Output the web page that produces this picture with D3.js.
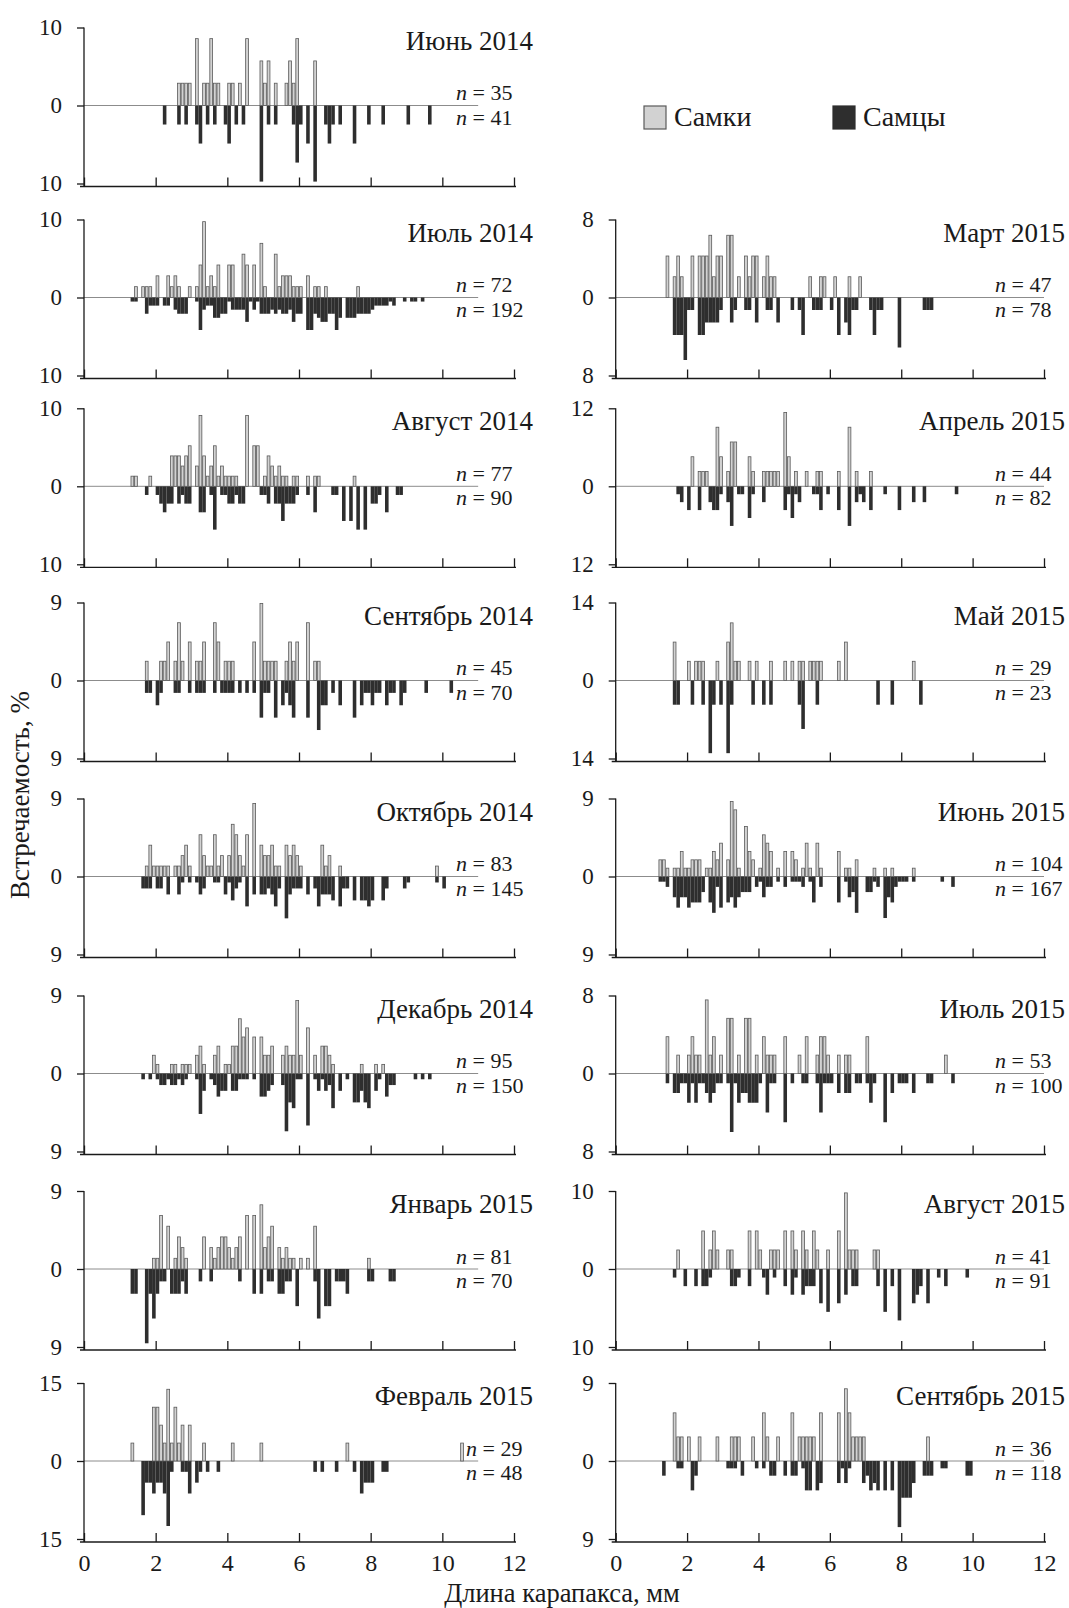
<!DOCTYPE html>
<html>
<head>
<meta charset="utf-8">
<script src="https://cdn.jsdelivr.net/npm/d3@7"></script>
<style>
  body { margin: 0; background: #fff; }
  svg text { font-family: "Liberation Serif", "DejaVu Serif", serif; fill: #1a1a1a; }
</style>
</head>
<body>
<svg id="chart" width="1069" height="1608"></svg>
<script>
// panel order: left column top to bottom, then right column top to bottom
const titles = ["Июнь 2014", "Июль 2014", "Август 2014", "Сентябрь 2014", "Октябрь 2014",
  "Декабрь 2014", "Январь 2015", "Февраль 2015", "Март 2015", "Апрель 2015", "Май 2015",
  "Июнь 2015", "Июль 2015", "Август 2015", "Сентябрь 2015"]
const nFemale = [35, 72, 77, 45, 83, 95, 81, 29, 47, 44, 29, 104, 53, 41, 36]
const nMale = [41, 192, 90, 70, 145, 150, 70, 48, 78, 82, 23, 167, 100, 91, 118]
const yMax = [10, 10, 10, 9, 9, 9, 9, 15, 8, 12, 14, 9, 8, 10, 9]
const xTicks = [0, 2, 4, 6, 8, 10, 12]
const legendLabels = ["Самки", "Самцы"]

// [carapace length class, mm (left edge of 0.1 mm class), number of animals]
const fJun14 = [[2.6,1],[2.7,1],[2.8,1],[2.9,1],[3.1,3],[3.3,1],[3.4,1],[3.5,3],[3.6,1],[3.7,1],[4.0,1],[4.1,1],[4.3,1],[4.5,3],[4.9,2],[5.0,1],[5.1,2],[5.3,1],[5.6,1],[5.7,2],[5.8,1],[5.9,3],[6.4,2]]
const mJun14 = [[2.2,1],[2.6,1],[2.8,1],[3.1,1],[3.2,2],[3.4,1],[3.6,1],[3.9,1],[4.0,2],[4.2,1],[4.4,1],[4.9,4],[5.1,1],[5.3,1],[5.8,1],[5.9,3],[6.0,1],[6.2,2],[6.4,4],[6.7,1],[6.8,2],[6.9,1],[7.1,1],[7.5,2],[7.9,1],[8.3,1],[9.0,1],[9.6,1]]
const fJul14 = [[1.4,1],[1.6,1],[1.7,1],[1.8,1],[2.0,2],[2.3,2],[2.4,1],[2.5,2],[2.6,1],[2.9,1],[3.1,1],[3.2,3],[3.3,7],[3.4,1],[3.5,2],[3.6,1],[3.7,3],[4.0,3],[4.1,3],[4.4,4],[4.5,3],[4.7,3],[4.9,5],[5.0,1],[5.3,4],[5.4,1],[5.5,2],[5.6,2],[5.7,2],[5.8,1],[5.9,1],[6.0,1],[6.2,2],[6.4,1],[6.5,1],[6.7,1],[7.6,1]]
const mJul14 = [[1.3,1],[1.4,1],[1.7,4],[1.8,2],[1.9,2],[2.0,2],[2.2,2],[2.3,2],[2.5,3],[2.6,4],[2.7,4],[2.8,4],[3.1,1],[3.2,8],[3.3,3],[3.4,2],[3.5,2],[3.6,5],[3.7,5],[3.8,4],[3.9,4],[4.0,1],[4.1,3],[4.2,3],[4.3,3],[4.4,3],[4.5,6],[4.6,1],[4.7,3],[4.8,1],[4.9,4],[5.0,4],[5.1,4],[5.2,3],[5.3,4],[5.4,3],[5.5,4],[5.6,4],[5.7,3],[5.8,6],[5.9,4],[6.0,4],[6.2,8],[6.3,8],[6.4,4],[6.5,5],[6.6,6],[6.7,6],[6.8,4],[6.9,4],[7.0,8],[7.1,5],[7.3,5],[7.4,5],[7.5,5],[7.6,4],[7.7,4],[7.8,4],[7.9,4],[8.0,3],[8.1,2],[8.2,2],[8.3,2],[8.4,2],[8.5,1],[8.6,2],[8.9,1],[9.1,1],[9.2,1],[9.4,1]]
const fAug14 = [[1.3,1],[1.4,1],[1.8,1],[2.4,3],[2.5,3],[2.6,3],[2.7,2],[2.8,3],[2.9,4],[3.1,2],[3.2,7],[3.3,3],[3.4,1],[3.5,2],[3.6,4],[3.7,1],[3.8,2],[3.9,1],[4.0,1],[4.1,1],[4.2,1],[4.5,7],[4.7,4],[4.8,4],[5.0,1],[5.1,3],[5.2,2],[5.3,1],[5.4,2],[5.5,1],[5.6,1],[5.8,1],[5.9,1],[6.2,1],[6.4,1],[6.5,1],[7.5,1]]
const mAug14 = [[1.7,1],[2.0,1],[2.1,2],[2.2,3],[2.3,2],[2.4,2],[2.6,2],[2.7,1],[2.8,2],[2.9,2],[3.2,3],[3.3,3],[3.5,1],[3.6,5],[3.8,1],[3.9,1],[4.0,2],[4.1,2],[4.2,1],[4.3,2],[4.4,2],[4.9,1],[5.0,1],[5.1,2],[5.3,2],[5.4,2],[5.5,4],[5.6,2],[5.7,2],[5.8,2],[5.9,1],[6.2,1],[6.4,3],[6.9,1],[7.0,1],[7.2,4],[7.4,4],[7.6,5],[7.8,5],[8.0,2],[8.1,2],[8.2,1],[8.4,3],[8.7,1],[8.8,1]]
const fSep14 = [[1.7,1],[2.1,1],[2.2,1],[2.3,2],[2.5,1],[2.6,3],[2.7,1],[2.9,2],[3.1,1],[3.2,1],[3.3,2],[3.6,3],[3.7,2],[3.9,1],[4.0,1],[4.1,1],[4.7,2],[4.9,4],[5.0,1],[5.1,1],[5.2,1],[5.3,1],[5.6,1],[5.7,2],[5.8,1],[5.9,2],[6.2,3],[6.4,1],[6.5,1]]
const mSep14 = [[1.7,1],[1.8,1],[2.0,2],[2.1,1],[2.5,1],[2.6,1],[2.9,1],[3.1,1],[3.2,1],[3.3,1],[3.6,1],[3.8,1],[3.9,1],[4.0,1],[4.1,1],[4.3,1],[4.5,1],[4.7,1],[4.9,3],[5.0,1],[5.1,1],[5.3,3],[5.5,2],[5.6,1],[5.7,2],[5.8,3],[6.2,3],[6.5,4],[6.6,2],[6.7,2],[6.9,1],[7.1,2],[7.5,3],[7.7,2],[7.8,1],[7.9,1],[8.0,2],[8.1,1],[8.2,1],[8.4,2],[8.5,1],[8.6,1],[8.8,2],[8.9,1],[9.5,1],[10.2,1]]
const fOct14 = [[1.7,1],[1.8,3],[1.9,1],[2.0,1],[2.1,1],[2.2,1],[2.3,1],[2.5,1],[2.6,1],[2.7,2],[2.8,3],[2.9,1],[3.2,4],[3.3,2],[3.4,1],[3.5,1],[3.6,4],[3.7,1],[3.8,2],[4.0,2],[4.1,5],[4.2,4],[4.3,2],[4.4,1],[4.5,4],[4.7,7],[4.9,3],[5.0,2],[5.1,2],[5.2,3],[5.3,1],[5.4,1],[5.6,3],[5.7,2],[5.8,3],[5.9,2],[6.0,1],[6.6,3],[6.7,1],[6.8,2],[7.1,1],[9.8,1]]
const mOct14 = [[1.6,2],[1.7,2],[1.8,2],[2.0,2],[2.1,2],[2.3,3],[2.6,3],[2.7,1],[2.9,1],[3.1,1],[3.2,3],[3.3,2],[3.6,1],[3.7,1],[3.9,3],[4.0,1],[4.1,4],[4.2,2],[4.3,1],[4.5,5],[4.7,3],[4.9,3],[5.0,3],[5.1,2],[5.2,3],[5.3,5],[5.4,2],[5.6,7],[5.7,3],[5.8,2],[5.9,2],[6.0,2],[6.2,3],[6.4,2],[6.5,5],[6.6,3],[6.7,3],[6.8,3],[6.9,4],[7.1,5],[7.2,2],[7.3,2],[7.5,4],[7.7,4],[7.8,4],[7.9,5],[8.0,4],[8.3,4],[8.4,2],[8.9,2],[9.0,1],[9.8,1],[10.0,2]]
const fDec14 = [[1.9,2],[2.0,1],[2.4,1],[2.5,1],[2.7,1],[2.8,1],[2.9,1],[3.1,2],[3.2,3],[3.3,1],[3.6,2],[3.7,3],[3.9,1],[4.0,1],[4.1,3],[4.2,3],[4.3,6],[4.4,4],[4.5,5],[4.7,4],[4.9,4],[5.0,2],[5.1,2],[5.2,3],[5.5,2],[5.6,3],[5.7,2],[5.8,2],[5.9,8],[6.0,2],[6.2,5],[6.4,2],[6.6,3],[6.7,3],[6.8,2],[6.9,1],[7.7,1],[8.1,1],[8.3,1]]
const mDec14 = [[1.6,1],[1.8,1],[2.0,1],[2.1,2],[2.2,2],[2.3,1],[2.4,2],[2.5,2],[2.6,1],[2.7,2],[2.8,1],[3.1,1],[3.2,7],[3.3,3],[3.5,1],[3.6,2],[3.7,4],[3.8,3],[3.9,3],[4.1,3],[4.2,3],[4.3,1],[4.4,1],[4.5,1],[4.7,1],[4.9,4],[5.0,4],[5.1,3],[5.2,2],[5.5,2],[5.6,10],[5.7,5],[5.8,6],[5.9,1],[6.0,1],[6.2,9],[6.4,1],[6.5,3],[6.6,1],[6.7,3],[6.8,2],[6.9,6],[7.1,3],[7.3,1],[7.5,5],[7.6,5],[7.7,3],[7.8,5],[7.9,6],[8.1,3],[8.2,1],[8.4,4],[8.5,2],[8.6,2],[9.2,1],[9.4,1],[9.6,1]]
const fJan15 = [[1.9,1],[2.0,1],[2.1,5],[2.3,4],[2.5,1],[2.6,3],[2.7,2],[2.8,1],[3.3,3],[3.5,2],[3.6,1],[3.7,2],[3.8,3],[3.9,3],[4.0,2],[4.1,1],[4.2,2],[4.3,3],[4.5,5],[4.7,5],[4.9,6],[5.0,2],[5.1,3],[5.2,4],[5.4,2],[5.5,1],[5.6,2],[5.7,1],[5.8,1],[6.0,1],[6.2,1],[6.4,4],[7.9,1]]
const mJan15 = [[1.3,2],[1.4,2],[1.7,6],[1.8,2],[1.9,4],[2.0,2],[2.1,1],[2.2,1],[2.4,2],[2.5,2],[2.6,2],[2.7,1],[2.8,2],[3.2,1],[3.5,1],[4.3,1],[4.7,2],[4.9,2],[5.1,1],[5.2,1],[5.4,2],[5.5,2],[5.6,1],[5.7,1],[5.9,3],[6.4,1],[6.5,4],[6.7,3],[6.8,3],[7.0,1],[7.1,1],[7.2,1],[7.3,2],[7.9,1],[8.0,1],[8.5,1],[8.6,1]]
const fFeb15 = [[1.3,1],[1.9,3],[2.0,3],[2.1,2],[2.2,1],[2.3,4],[2.4,1],[2.5,3],[2.6,1],[2.7,2],[2.9,2],[3.3,1],[4.1,1],[4.9,1],[7.3,1],[10.5,1]]
const mFeb15 = [[1.6,5],[1.7,2],[1.8,2],[1.9,3],[2.0,2],[2.1,2],[2.2,3],[2.3,6],[2.4,1],[2.7,1],[2.8,1],[2.9,3],[3.1,2],[3.2,1],[3.4,1],[3.7,1],[6.4,1],[6.6,1],[7.0,1],[7.5,1],[7.7,3],[7.8,2],[7.9,2],[8.0,2],[8.3,1],[8.4,1]]
const fMar15 = [[1.4,2],[1.6,1],[1.7,2],[1.8,1],[2.1,2],[2.3,2],[2.4,2],[2.5,2],[2.6,3],[2.7,1],[2.8,2],[2.9,2],[3.1,3],[3.2,3],[3.4,1],[3.6,2],[3.7,1],[3.8,2],[3.9,2],[4.1,1],[4.2,2],[4.3,1],[4.4,1],[5.4,1],[5.7,1],[5.8,1],[6.1,1],[6.5,1],[6.8,1]]
const mMar15 = [[1.6,3],[1.7,3],[1.8,3],[1.9,5],[2.0,1],[2.1,1],[2.3,3],[2.4,3],[2.5,2],[2.6,2],[2.7,2],[2.8,2],[2.9,1],[3.2,2],[3.3,1],[3.6,1],[3.7,1],[3.9,2],[4.2,1],[4.3,1],[4.5,2],[4.9,1],[5.1,1],[5.2,3],[5.5,1],[5.6,1],[5.7,1],[6.0,1],[6.2,3],[6.4,2],[6.5,3],[6.6,1],[6.7,1],[7.1,1],[7.2,3],[7.3,1],[7.4,1],[7.9,4],[8.6,1],[8.7,1],[8.8,1]]
const fApr15 = [[2.1,2],[2.3,1],[2.4,1],[2.5,1],[2.8,4],[2.9,2],[3.1,1],[3.2,3],[3.3,3],[3.7,2],[3.8,1],[4.1,1],[4.2,1],[4.3,1],[4.4,1],[4.5,1],[4.7,5],[4.8,2],[5.0,1],[5.3,1],[5.6,1],[5.7,1],[6.2,1],[6.5,4],[6.7,1],[7.1,1]]
const mApr15 = [[1.7,1],[1.8,2],[2.0,3],[2.3,3],[2.6,2],[2.7,3],[2.8,3],[2.9,1],[3.1,2],[3.2,5],[3.4,1],[3.5,1],[3.7,4],[3.8,1],[4.1,2],[4.7,3],[4.8,1],[4.9,4],[5.0,1],[5.1,2],[5.5,1],[5.6,1],[5.7,3],[5.9,1],[6.2,3],[6.5,5],[6.7,2],[6.8,1],[6.9,2],[7.1,3],[7.5,1],[7.9,3],[8.3,2],[8.6,2],[9.5,1]]
const fMay15 = [[1.6,2],[2.0,1],[2.2,1],[2.3,1],[2.4,1],[2.8,1],[3.1,2],[3.2,3],[3.3,1],[3.4,1],[3.7,1],[3.9,1],[4.3,1],[4.7,1],[4.9,1],[5.1,1],[5.2,1],[5.4,1],[5.5,1],[5.6,1],[5.7,1],[6.2,1],[6.4,2],[8.3,1]]
const mMay15 = [[1.6,1],[1.7,1],[2.1,1],[2.4,1],[2.6,3],[2.7,1],[2.9,1],[3.1,3],[3.2,1],[3.8,1],[4.1,1],[4.3,1],[5.1,1],[5.2,2],[5.6,1],[7.3,1],[7.7,1],[8.5,1]]
const fJun15 = [[1.2,2],[1.3,2],[1.4,1],[1.6,1],[1.7,1],[1.8,3],[1.9,1],[2.0,1],[2.1,2],[2.2,2],[2.3,2],[2.5,1],[2.6,1],[2.7,3],[2.8,2],[2.9,4],[3.1,2],[3.2,9],[3.3,8],[3.4,1],[3.6,6],[3.7,3],[3.8,2],[4.0,1],[4.1,5],[4.2,4],[4.3,3],[4.5,1],[4.7,3],[4.9,3],[5.0,2],[5.2,1],[5.3,4],[5.4,1],[5.6,4],[5.7,1],[6.2,3],[6.4,1],[6.5,1],[6.7,2],[7.2,1],[7.5,1],[7.7,1],[8.3,1]]
const mJun15 = [[1.2,1],[1.3,1],[1.4,2],[1.6,4],[1.7,6],[1.8,4],[1.9,4],[2.0,6],[2.1,5],[2.2,5],[2.3,5],[2.4,3],[2.6,5],[2.7,7],[2.8,2],[2.9,6],[3.1,5],[3.2,4],[3.3,6],[3.4,4],[3.5,3],[3.6,3],[3.7,3],[3.9,2],[4.0,1],[4.1,4],[4.2,2],[4.3,2],[4.5,1],[4.7,2],[4.9,1],[5.0,1],[5.1,1],[5.2,2],[5.4,1],[5.5,5],[5.7,2],[6.2,5],[6.4,1],[6.5,4],[6.6,3],[6.7,7],[7.0,3],[7.1,3],[7.2,1],[7.3,2],[7.5,8],[7.6,4],[7.7,5],[7.8,2],[7.9,1],[8.0,1],[8.1,1],[8.3,1],[9.1,1],[9.4,2]]
const fJul15 = [[1.4,2],[1.7,1],[2.0,1],[2.1,2],[2.2,1],[2.3,1],[2.5,4],[2.6,1],[2.7,2],[2.9,1],[3.1,3],[3.2,3],[3.4,1],[3.6,3],[3.7,3],[3.9,1],[4.1,2],[4.2,1],[4.3,1],[4.4,1],[4.7,2],[5.1,1],[5.3,2],[5.6,1],[5.7,2],[5.8,2],[5.9,1],[6.2,1],[6.4,1],[6.5,1],[7.0,2],[9.2,1]]
const mJul15 = [[1.4,1],[1.6,2],[1.7,2],[1.8,1],[1.9,1],[2.0,3],[2.1,1],[2.2,3],[2.3,1],[2.4,1],[2.5,2],[2.6,3],[2.7,2],[2.8,1],[2.9,1],[3.1,1],[3.2,6],[3.3,1],[3.4,3],[3.5,2],[3.6,2],[3.7,3],[3.8,3],[3.9,3],[4.0,1],[4.2,4],[4.3,1],[4.4,1],[4.7,5],[4.9,1],[5.2,1],[5.3,1],[5.6,1],[5.7,4],[5.8,1],[5.9,1],[6.0,1],[6.2,2],[6.4,2],[6.5,2],[6.7,1],[6.8,1],[7.0,1],[7.1,3],[7.2,1],[7.5,5],[7.7,2],[7.9,1],[8.0,1],[8.1,1],[8.3,2],[8.7,1],[8.8,1],[9.4,1]]
const fAug15 = [[1.7,1],[2.4,2],[2.6,1],[2.7,2],[2.8,1],[3.1,1],[3.2,1],[3.7,2],[3.9,2],[4.0,1],[4.3,1],[4.4,1],[4.5,1],[4.7,2],[4.9,2],[5.0,1],[5.2,2],[5.3,1],[5.5,2],[5.6,1],[5.9,1],[6.2,2],[6.4,4],[6.5,1],[6.6,1],[6.7,1],[7.2,1],[7.3,1]]
const mAug15 = [[1.6,1],[1.9,2],[2.2,2],[2.4,2],[2.5,2],[2.6,1],[3.2,2],[3.3,2],[3.4,1],[3.7,2],[4.1,1],[4.2,3],[4.4,1],[4.7,2],[4.9,3],[5.0,1],[5.2,3],[5.3,2],[5.4,2],[5.5,2],[5.7,4],[5.9,5],[6.2,4],[6.4,3],[6.6,2],[6.7,2],[7.3,2],[7.5,5],[7.7,2],[7.9,6],[8.3,4],[8.4,3],[8.5,2],[8.7,4],[9.0,1],[9.2,2],[9.8,1]]
const fSep15 = [[1.6,2],[1.7,1],[1.8,1],[2.0,1],[2.3,1],[2.8,1],[3.2,1],[3.3,1],[3.4,1],[3.8,1],[4.1,2],[4.2,1],[4.5,1],[4.9,2],[5.1,1],[5.2,1],[5.3,1],[5.4,1],[5.5,1],[5.7,2],[6.2,2],[6.4,3],[6.5,2],[6.6,1],[6.7,1],[6.8,1],[6.9,1],[8.7,1]]
const mSep15 = [[1.3,2],[1.7,1],[1.8,1],[2.1,4],[2.2,2],[3.1,1],[3.2,1],[3.3,1],[3.5,2],[3.9,1],[4.1,1],[4.3,2],[4.4,2],[4.7,2],[4.9,2],[5.0,2],[5.2,1],[5.3,4],[5.4,4],[5.6,4],[5.7,3],[6.2,3],[6.3,1],[6.4,3],[6.5,1],[6.9,3],[7.0,2],[7.1,4],[7.2,3],[7.3,4],[7.5,4],[7.7,4],[7.9,9],[8.0,5],[8.1,5],[8.2,5],[8.3,3],[8.6,2],[8.7,2],[8.8,2],[9.1,1],[9.2,1],[9.8,2],[9.9,2]]

const femaleSets = [fJun14, fJul14, fAug14, fSep14, fOct14, fDec14, fJan15, fFeb15,
  fMar15, fApr15, fMay15, fJun15, fJul15, fAug15, fSep15]
const maleSets = [mJun14, mJul14, mAug14, mSep14, mOct14, mDec14, mJan15, mFeb15,
  mMar15, mApr15, mMay15, mJun15, mJul15, mAug15, mSep15]

// layout
const colRange = [[84, 514], [615.7, 1044]]
const rowZero = [105.5, 297.5, 486.3, 680.5, 876.5, 1073.5, 1269, 1461]
const half = 78
const panelCol = [0, 0, 0, 0, 0, 0, 0, 0, 1, 1, 1, 1, 1, 1, 1]
const panelRow = [0, 1, 2, 3, 4, 5, 6, 7, 1, 2, 3, 4, 5, 6, 7]
const femaleFill = "#d2d2d2", femaleStroke = "#5a5a5a", maleFill = "#2e2e2e"
const serif = "Liberation Serif, DejaVu Serif, serif"

const svg = d3.select("#chart")

titles.forEach((title, i) => {
  const col = panelCol[i], row = panelRow[i]
  const zero = rowZero[row]
  const x = d3.scaleLinear().domain([0, 12]).range(colRange[col])
  const y = d3.scaleLinear().domain([-yMax[i], yMax[i]]).range([zero + half, zero - half])
  const pf = c => 100 * c / nFemale[i]
  const pm = c => 100 * c / nMale[i]
  const g = svg.append("g").attr("class", "panel")

  g.append("line")
    .attr("x1", x(0)).attr("x2", x(col === 0 ? 11 : 12))
    .attr("y1", y(0)).attr("y2", y(0))
    .attr("stroke", "#8c8c8c").attr("stroke-width", 1)

  g.selectAll(".male").data(maleSets[i]).join("rect")
    .attr("class", "male")
    .attr("x", d => x(d[0]))
    .attr("width", d => x(d[0] + 0.1) - x(d[0]))
    .attr("y", y(0))
    .attr("height", d => y(-pm(d[1])) - y(0))
    .attr("fill", maleFill)

  g.selectAll(".female").data(femaleSets[i]).join("rect")
    .attr("class", "female")
    .attr("x", d => x(d[0]) + 0.4)
    .attr("width", d => x(d[0] + 0.1) - x(d[0]) - 0.8)
    .attr("y", d => y(pf(d[1])))
    .attr("height", d => y(0) - y(pf(d[1])))
    .attr("fill", femaleFill)
    .attr("stroke", femaleStroke)
    .attr("stroke-width", 0.8)

  // x axis, ticks point up into the panel
  const axisY = zero + 81
  const xAxis = d3.axisBottom(x).tickValues(xTicks)
    .tickSizeInner(-9).tickSizeOuter(0).tickPadding(12)
    .tickFormat(row === 7 ? d3.format("d") : () => "")
  const gx = g.append("g").attr("transform", `translate(0,${axisY})`).call(xAxis)
  gx.attr("font-family", serif).attr("font-size", 24)
  gx.selectAll("path, line").attr("stroke", "#1a1a1a").attr("stroke-width", 1.3)
  gx.select(".domain").attr("d", `M${x(0) - 4},0H${x(12) + 2}`)

  // y axis
  const yAxis = d3.axisLeft(y).tickValues([-yMax[i], 0, yMax[i]])
    .tickFormat(d => Math.abs(d)).tickSizeInner(7).tickSizeOuter(0).tickPadding(15)
  const gy = g.append("g").attr("transform", `translate(${x(0)},0)`).call(yAxis)
  gy.attr("font-family", serif).attr("font-size", 23)
  gy.selectAll("path, line").attr("stroke", "#1a1a1a").attr("stroke-width", 1.3)
  gy.select(".domain").attr("d", `M0,${y(yMax[i])}V${axisY}`)

  // title and sample sizes
  g.append("text")
    .attr("x", col === 0 ? 533 : 1065).attr("y", zero - 56)
    .attr("text-anchor", "end").attr("font-size", 27)
    .text(title)

  const nx = (col === 0 ? 456 : 995) + (i === 7 ? 10 : 0)
  const sizes = [[nFemale[i], zero - 5.5], [nMale[i], zero + 19]]
  sizes.forEach(([n, ty]) => {
    const t = g.append("text").attr("x", nx).attr("y", ty).attr("font-size", 22)
    t.append("tspan").attr("font-style", "italic").text("n")
    t.append("tspan").text(" = " + n)
  })
})

// legend
const legendX = [644, 833]
legendLabels.forEach((label, k) => {
  svg.append("rect")
    .attr("x", legendX[k]).attr("y", 106).attr("width", 22).attr("height", 23)
    .attr("fill", k === 0 ? femaleFill : maleFill)
    .attr("stroke", k === 0 ? femaleStroke : maleFill).attr("stroke-width", 1.2)
  svg.append("text")
    .attr("x", legendX[k] + 30).attr("y", 126)
    .attr("font-size", 28)
    .text(label)
})

// axis titles
svg.append("text")
  .attr("transform", "translate(29,795) rotate(-90)")
  .attr("text-anchor", "middle").attr("font-size", 27)
  .text("Встречаемость, %")

svg.append("text")
  .attr("x", 562).attr("y", 1602)
  .attr("text-anchor", "middle").attr("font-size", 26.5)
  .text("Длина карапакса, мм")
</script>
</body>
</html>
